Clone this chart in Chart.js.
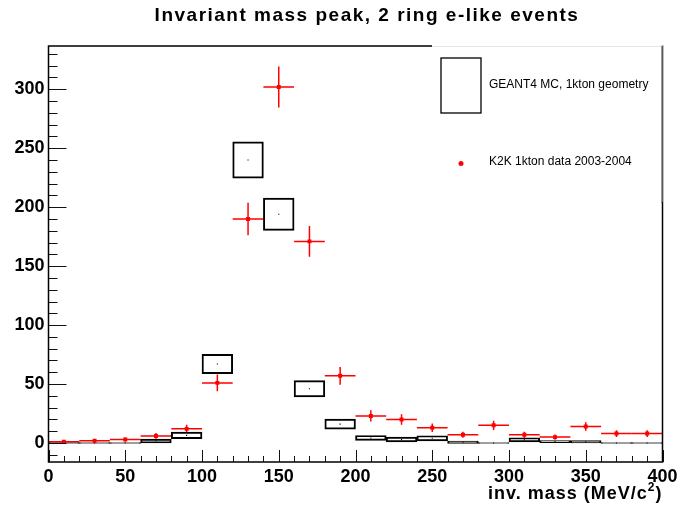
<!DOCTYPE html>
<html><head><meta charset="utf-8">
<script src="https://cdn.jsdelivr.net/npm/chart.js@4/dist/chart.umd.min.js"></script>
<style>html,body{margin:0;padding:0;background:#fff}#wrap{width:679px;height:512px;position:relative}</style>
</head><body><div id="wrap"><canvas id="c"></canvas></div>
<script>
// ---- data ----
const binCenters = [10,30,50,70,90,110,130,150,170,190,210,230,250,270,290,310,330,350,370,390];
const dataCounts = [1,2,3,6,12,51,190,302,171,57,23,20,13,7,15,7,5,14,8,8];
const dataErrors = [1,1.4,1.7,2.4,3.5,7.1,13.8,17.4,13.1,7.5,4.8,4.5,3.6,2.6,3.9,2.6,2.2,3.7,2.8,2.8];
const mcValues   = [0.3,0,0,1.7,6.5,67,240,194,46,16,4.3,3,4,0.7,0,2.7,1.2,1,0,0];
const mcErrors   = [0.3,0,0,1.7,2.8,8.2,15.4,13.7,6.9,4.2,2.1,2.1,2.2,1,0,1.8,0.9,1,0,0];
const binHalfWidth = 10;
const xTickLabels = [0,50,100,150,200,250,300,350,400];
const yTickLabels = [0,50,100,150,200,250,300];
const chartTitle = 'Invariant mass peak, 2 ring e-like events';
const xAxisTitleMain = 'inv. mass (MeV/c';
const xAxisTitleSup = '2';
const xAxisTitleEnd = ')';
const legendLabels = ['GEANT4 MC, 1kton geometry', 'K2K 1kton data 2003-2004'];

const FONT = "'Liberation Sans', Arial, Helvetica, sans-serif";

const rootStyle = {
  id: 'rootStyle',
  beforeDatasetsDraw(chart) {
    const {ctx, chartArea: a} = chart;
    const xs = chart.scales.x, ys = chart.scales.y;
    ctx.save();
    ctx.beginPath(); ctx.rect(a.left, a.top, a.right - a.left, a.bottom - a.top); ctx.clip();
    ctx.strokeStyle = '#ff0000'; ctx.lineWidth = 1.5;
    binCenters.forEach((c, i) => {
      const px = xs.getPixelForValue(c), py = ys.getPixelForValue(dataCounts[i]);
      ctx.beginPath();
      ctx.moveTo(xs.getPixelForValue(c - binHalfWidth), py);
      ctx.lineTo(xs.getPixelForValue(c + binHalfWidth), py);
      ctx.moveTo(px, ys.getPixelForValue(dataCounts[i] - dataErrors[i]));
      ctx.lineTo(px, ys.getPixelForValue(dataCounts[i] + dataErrors[i]));
      ctx.stroke();
    });
    ctx.restore();
  },
  afterDatasetsDraw(chart) {
    const {ctx, chartArea: a} = chart;
    const xs = chart.scales.x, ys = chart.scales.y;
    ctx.save();
    ctx.strokeStyle = '#111'; ctx.lineWidth = 1;
    for (let v = -10; v <= 330; v += 10) {
      const py = Math.round(ys.getPixelForValue(v)) + 0.5;
      const len = (v % 50 === 0) ? 18 : 9;
      ctx.beginPath(); ctx.moveTo(a.left, py); ctx.lineTo(a.left + len, py); ctx.stroke();
    }
    for (let v = 0; v <= 400; v += 10) {
      const px = Math.round(xs.getPixelForValue(v)) + 0.5;
      const len = (v % 50 === 0) ? 12 : 6;
      ctx.beginPath(); ctx.moveTo(px, a.bottom); ctx.lineTo(px, a.bottom - len); ctx.stroke();
    }
    ctx.lineWidth = 1.5; ctx.strokeStyle = '#000';
    ctx.strokeRect(a.left, a.top, a.right - a.left, a.bottom - a.top);
    // legend
    const lx = 432, ly = a.top - 1, lw = a.right - 432, lh = 203 - a.top;
    ctx.fillStyle = '#fff'; ctx.fillRect(lx, ly, lw, lh);
    ctx.strokeStyle = '#e4e4e4'; ctx.lineWidth = 1;
    ctx.beginPath(); ctx.moveTo(lx, a.top + 0.5); ctx.lineTo(a.right, a.top + 0.5); ctx.stroke();
    ctx.strokeStyle = '#333';
    ctx.beginPath(); ctx.moveTo(a.right - 0.5, a.top); ctx.lineTo(a.right - 0.5, 203); ctx.stroke();
    ctx.strokeStyle = '#000'; ctx.lineWidth = 1.3;
    ctx.strokeRect(441, 58, 40, 55);
    ctx.fillStyle = '#ff0000';
    ctx.beginPath(); ctx.arc(461, 163.5, 2.5, 0, Math.PI * 2); ctx.fill();
    ctx.fillStyle = '#000';
    ctx.font = '12px ' + FONT;
    ctx.textBaseline = 'middle'; ctx.textAlign = 'left';
    ctx.fillText(legendLabels[0], 489, 85);
    ctx.fillText(legendLabels[1], 489, 162);
    ctx.restore();
  },
  afterDraw(chart) {
    const {ctx, chartArea: a} = chart;
    ctx.save();
    ctx.fillStyle = '#000';
    ctx.textBaseline = 'alphabetic';
    // chart title
    ctx.font = 'bold 19px ' + FONT;
    ctx.letterSpacing = '1.5px';
    ctx.textAlign = 'center';
    ctx.fillText(chartTitle, 367, 21);
    // x axis title, right-aligned at the frame's right edge
    ctx.letterSpacing = '1px';
    ctx.textAlign = 'left';
    ctx.font = 'bold 18px ' + FONT;
    const wEnd = ctx.measureText(xAxisTitleEnd).width;
    ctx.font = 'bold 12px ' + FONT;
    const wSup = ctx.measureText(xAxisTitleSup).width;
    ctx.font = 'bold 18px ' + FONT;
    const wMain = ctx.measureText(xAxisTitleMain).width;
    const right = a.right;
    const base = 499;
    const x0 = right - wEnd - wSup - wMain;
    ctx.fillText(xAxisTitleMain, x0, base);
    ctx.fillText(xAxisTitleEnd, right - wEnd, base);
    ctx.font = 'bold 12px ' + FONT;
    ctx.fillText(xAxisTitleSup, x0 + wMain, base - 8);
    ctx.restore();
  }
};

new Chart(document.getElementById('c'), {
  type: 'bar',
  data: {
    datasets: [
      {
        type: 'scatter', label: legendLabels[1],
        data: binCenters.map((x, i) => ({x, y: dataCounts[i]})),
        pointStyle: 'rect', pointRadius: 2.8, backgroundColor: '#ff0000', borderWidth: 0, order: 0
      },
      {
        type: 'scatter', label: 'MC centre',
        data: binCenters.map((x, i) => ({x, y: mcValues[i]})),
        pointStyle: 'rect', pointRadius: 0.8, backgroundColor: '#000', borderWidth: 0, order: 1
      },
      {
        type: 'bar', label: legendLabels[0],
        data: binCenters.map((x, i) => ({x, y: [mcValues[i] - mcErrors[i], mcValues[i] + mcErrors[i]]})),
        backgroundColor: 'rgba(0,0,0,0)', borderColor: '#000', borderWidth: 1.3,
        borderSkipped: false, barPercentage: 1, categoryPercentage: 1, minBarLength: 1, order: 2
      }
    ]
  },
  options: {
    responsive: true, maintainAspectRatio: false, animation: false,
    layout: {padding: {left: 0, right: 16.5, top: 46, bottom: 0}},
    plugins: {legend: {display: false}, tooltip: {enabled: false}, title: {display: false}},
    scales: {
      x: {
        type: 'linear', min: 0, max: 400, offset: false,
        grid: {display: false, drawTicks: false}, border: {display: false},
        afterBuildTicks: s => { s.ticks = xTickLabels.map(v => ({value: v})); },
        afterFit: s => { s.height = 50; s.paddingLeft = 0; s.paddingRight = 0; },
        ticks: {color: '#000', padding: 4, maxRotation: 0, autoSkip: false,
          font: {family: FONT, size: 18, weight: 'bold'}}
      },
      y: {
        type: 'linear', min: -16.1, max: 336.7,
        grid: {display: false, drawTicks: false}, border: {display: false},
        afterBuildTicks: s => { s.ticks = yTickLabels.map(v => ({value: v})); },
        afterFit: s => { s.width = 48.5; s.paddingTop = 0; s.paddingBottom = 0; },
        ticks: {color: '#000', padding: 4, autoSkip: false,
          font: {family: FONT, size: 18, weight: 'bold'}}
      }
    }
  },
  plugins: [rootStyle]
});
</script>
</body></html>
